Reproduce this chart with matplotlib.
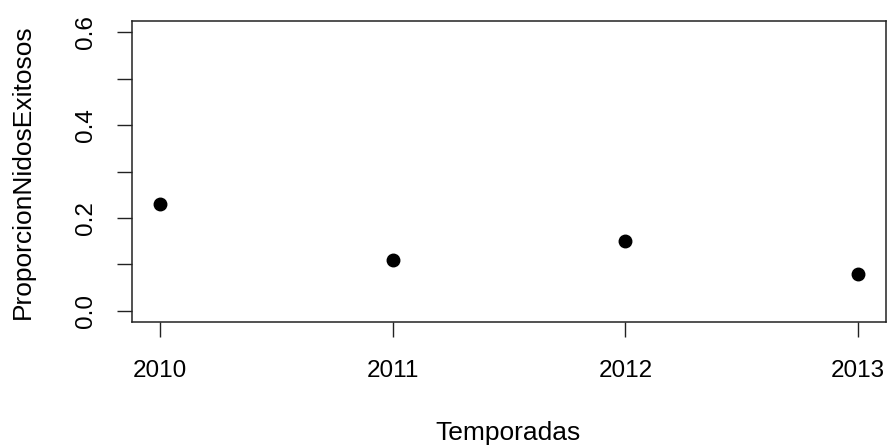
import matplotlib
matplotlib.use("Agg")
import matplotlib.pyplot as plt

temporadas = [2010, 2011, 2012, 2013]
proporcion = [0.23, 0.11, 0.15, 0.08]
yticks_major = [0.0, 0.2, 0.4, 0.6]
yticks_all = [0.0, 0.1, 0.2, 0.3, 0.4, 0.5, 0.6]

plt.rcParams['font.family'] = ['Liberation Sans', 'DejaVu Sans']
W, H = 890, 446
fig = plt.figure(figsize=(W/100, H/100), dpi=100)
L, R, T, B = 132, 886, 21, 322
ax = fig.add_axes([L/W, 1-B/H, (R-L)/W, (B-T)/H])

ax.plot(temporadas, proporcion, 'o', color='black', markersize=9, linestyle='none')
ax.set_xlim(2010-0.12, 2013+0.12)
ax.set_ylim(-0.024, 0.624)

fs = 17.5
fs_lab = 19.0
ax.set_xticks(temporadas)
ax.set_xticklabels([str(t) for t in temporadas], fontsize=fs)
ax.set_yticks(yticks_all)
ax.set_yticklabels([f"{v:.1f}" if v in yticks_major else "" for v in yticks_all],
                   fontsize=fs, rotation=90, va='center')
ax.tick_params(axis='both', direction='out', length=11, width=1.0, color='#222222')
ax.tick_params(axis='x', pad=16.5)
ax.tick_params(axis='y', pad=14)
for s in ax.spines.values():
    s.set_linewidth(1.1)
    s.set_color('#222222')

fig.text(507.5/W, 1-433/H, "Temporadas", ha='center', va='center', fontsize=fs_lab)
fig.text(23/W, 1-171.5/H, "ProporcionNidosExitosos", ha='center', va='center',
         rotation=90, fontsize=fs_lab)

fig.savefig("out.png", dpi=100)
